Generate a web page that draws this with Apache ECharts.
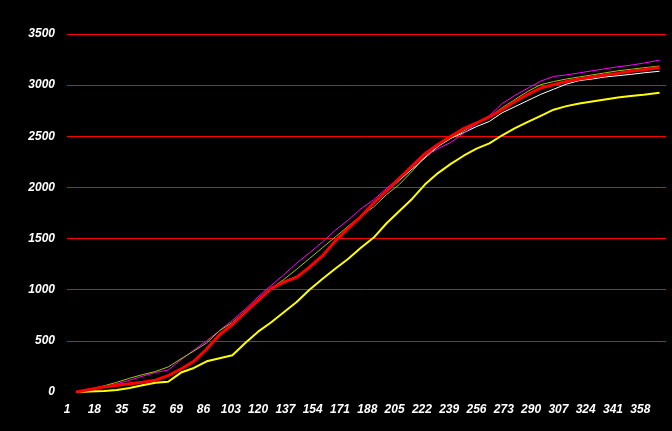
<!DOCTYPE html>
<html>
<head>
<meta charset="utf-8">
<script src="https://cdn.jsdelivr.net/npm/echarts@6/dist/echarts.min.js"></script>
<style>
html,body{margin:0;padding:0;background:#000;}
#chart{width:672px;height:431px;}
</style>
</head>
<body>
<div id="chart"></div>
<script>
// Category axis: days 1..374
var dayCount = 374;
var yTicks = [0, 500, 1000, 1500, 2000, 2500, 3000, 3500];

var sampleDays = [7,15,24,32,40,48,56,64,72,80,88,96,
  104,112,120,128,136,144,152,160,168,176,184,192,200,208,216,224,232,240,248,256,
  264,272,280,288,296,304,312,320,328,336,344,352,360,370];

var redValues = [0,25,50,65,80,95,115,160,225,300,420,560,
  660,780,895,1010,1075,1120,1220,1330,1475,1600,1715,1848,1965,2090,2210,2330,2420,2500,2575,2630,
  2690,2760,2840,2910,2972,3005,3035,3060,3080,3100,3115,3135,3150,3172];

var magentaValues = [0,20,50,80,115,155,190,215,315,410,500,600,
  700,810,930,1040,1145,1260,1360,1465,1580,1680,1790,1880,1990,2100,2200,2300,2380,2440,2530,2620,
  2700,2820,2900,2970,3040,3085,3100,3120,3140,3160,3180,3195,3215,3245];

var greenValues = [0,25,60,95,135,170,200,245,325,400,480,600,
  680,790,910,1010,1100,1200,1305,1410,1515,1620,1720,1810,1930,2030,2160,2300,2410,2480,2550,2630,
  2690,2780,2860,2940,3005,3035,3060,3080,3100,3120,3140,3155,3170,3187];

var whiteValues = [0,25,50,65,80,95,115,160,225,300,420,560,
  660,780,895,1010,1080,1130,1220,1330,1475,1600,1715,1845,1960,2070,2180,2290,2400,2480,2535,2595,
  2645,2730,2790,2850,2910,2960,3010,3045,3060,3080,3092,3105,3120,3136];

var yellowValues = [0,5,10,20,40,65,90,100,190,235,300,330,
  360,480,590,680,780,880,1000,1105,1205,1300,1410,1510,1650,1770,1890,2030,2140,2230,2310,2380,
  2430,2510,2580,2640,2700,2760,2795,2820,2840,2860,2880,2895,2905,2925];

var categories = [];
for (var d = 1; d <= dayCount; d++) categories.push(String(d));

function pairs(vals) {
  return sampleDays.map(function (day, i) { return [day - 1, vals[i]]; });
}

function line(name, color, width, vals) {
  return {
    name: name, type: 'line', data: pairs(vals),
    showSymbol: false, symbol: 'none', smooth: false,
    lineStyle: { color: color, width: width },
    itemStyle: { color: color },
    emphasis: { disabled: true }
  };
}

var labelFont = {
  color: '#ffffff', fontFamily: 'Liberation Sans', fontWeight: 'bold',
  fontStyle: 'italic', fontSize: 12
};

var chart = echarts.init(document.getElementById('chart'), null, { renderer: 'canvas' });
chart.setOption({
  backgroundColor: '#000000',
  animation: false,
  grid: { left: 67, right: 6, top: 34, bottom: 39, containLabel: false },
  xAxis: {
    type: 'category', data: categories, boundaryGap: false,
    axisLine: { show: false }, axisTick: { show: false },
    axisLabel: Object.assign({ interval: 16, margin: 12 }, labelFont),
    splitLine: { show: false }
  },
  yAxis: {
    type: 'value', min: yTicks[0], max: yTicks[yTicks.length - 1], interval: 500,
    axisLine: { show: false }, axisTick: { show: false },
    axisLabel: Object.assign({ margin: 12, formatter: function (v) { return String(v); } }, labelFont),
    splitLine: { show: true, showMinLine: false, lineStyle: { color: '#ff0000', width: 1 } }
  },
  series: [
    line('white', '#ffffff', 1, whiteValues),
    line('magenta', '#ff00ff', 1, magentaValues),
    line('green', '#99cc00', 1, greenValues),
    line('yellow', '#ffff00', 2, yellowValues),
    line('red', '#ff0000', 3, redValues)
  ]
});
</script>
</body>
</html>
